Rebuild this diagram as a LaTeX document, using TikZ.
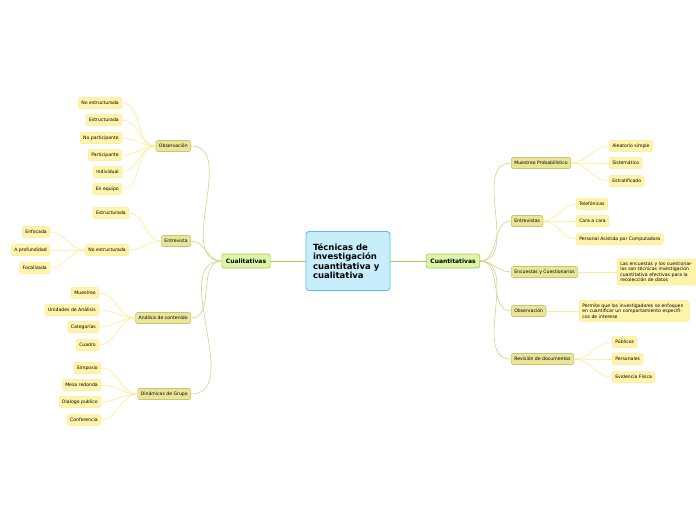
\documentclass[tikz,border=0pt]{standalone}
\usepackage{fontspec}
\setmainfont{DejaVu Sans}
\usetikzlibrary{positioning}
\definecolor{rootfill}{HTML}{C8EDFB}
\definecolor{rootline}{HTML}{5CC2E4}
\definecolor{mainfill}{HTML}{DCF5A6}
\definecolor{mainline}{HTML}{A9CC52}
\definecolor{subfill}{HTML}{E9E69A}
\definecolor{subline}{HTML}{C9C56C}
\definecolor{leaffill}{HTML}{FFF4AA}
\definecolor{leafline}{HTML}{FDEB8E}
\tikzset{
  rootbox/.style={draw=rootline, fill=rootfill, line width=0.9pt, rounded corners=3pt, align=left, font=\fontsize{8.5}{9.5}\selectfont\bfseries, text width=70pt, inner sep=7pt, minimum height=59pt},
  mainbox/.style={draw=mainline, fill=mainfill, line width=0.7pt, rounded corners=2pt, font=\fontsize{6}{7}\selectfont\bfseries, minimum height=14pt, inner sep=4pt},
  subbox/.style={draw=subline, fill=subfill, line width=0.6pt, rounded corners=2pt, font=\fontsize{4.6}{5.5}\selectfont, minimum height=11pt, inner sep=3pt},
  leafbox/.style={draw=leafline, fill=leaffill, line width=0.5pt, rounded corners=2pt, font=\fontsize{4.6}{5.5}\selectfont, minimum height=11pt, inner sep=3pt},
  notebox/.style={leafbox, align=left, text width=#1},
  mainlink/.style={draw=mainline, line width=0.8pt},
  sublink/.style={draw=subline!80, line width=0.6pt},
  leaflink/.style={draw=leafline, line width=0.6pt}
}
\begin{document}
\begin{tikzpicture}[x=1pt,y=-1pt]
\useasboundingbox (0,0) rectangle (696,520);
\clip (0,0) rectangle (696,520);
% center and main branches
\node[rootbox] (root) at (348,261) {Técnicas de investigación cuantitativa y cualitativa};
\node[mainbox] (cual) at (246,261) {Cualitativas};
\node[mainbox] (cuan) at (453,261) {Cuantitativas};
\draw[mainlink] (root.west) -- (cual.east);
\draw[mainlink] (root.east) -- (cuan.west);
% left side
\foreach \n/\t/\y in {obs/Observación/146, ent/Entrevista/241, ana/Análisis de contenido/318, din/Dinámicas de Grupo/394} {
  \node[subbox, anchor=east] (\n) at (191,\y) {\t};
  \draw[sublink] (cual.west) to[out=180,in=0] (\n.east);
}
\foreach \t/\y [count=\k] in {No estructurada/103, Estructurada/120, No participante/138, Participante/155, Individual/172, En equipo/189} {
  \node[leafbox, anchor=east] (obs\k) at (122,\y) {\t};
  \draw[leaflink] (obs.west) to[out=180,in=0] (obs\k.east);
}
\node[leafbox, anchor=east] (ent1) at (129,213) {Estructurada};
\node[leafbox, anchor=east] (ent2) at (129,250) {No estructurada};
\foreach \k in {1,2} {\draw[leaflink] (ent.west) to[out=180,in=0] (ent\k.east);}
\foreach \t/\y [count=\k] in {Enfocada/232, A profundidad/250, Focalizada/268} {
  \node[leafbox, anchor=east] (noe\k) at (50,\y) {\t};
  \draw[leaflink] (ent2.west) to[out=180,in=0] (noe\k.east);
}
\foreach \t/\y [count=\k] in {Muestreo/293, Unidades de Análisis/310, Categorías/327, Cuadro/345} {
  \node[leafbox, anchor=east] (ana\k) at (99,\y) {\t};
  \draw[leaflink] (ana.west) to[out=180,in=0] (ana\k.east);
}
\foreach \t/\y [count=\k] in {Simposio/368, Mesa redonda/385, Dialogo publico/402, Conferencia/420} {
  \node[leafbox, anchor=east] (din\k) at (101,\y) {\t};
  \draw[leaflink] (din.west) to[out=180,in=0] (din\k.east);
}
% right side
\foreach \n/\t/\y in {mue/Muestreo Probabilístico/163, ents/Entrevistas/221, enc/Encuestas y Cuestionarios/272, obr/Observación/311, rev/Revisión de documentos/359} {
  \node[subbox, anchor=west] (\n) at (511,\y) {\t};
  \draw[sublink] (cuan.east) to[out=0,in=180] (\n.west);
}
\foreach \t/\y [count=\k] in {Aleatorio simple/146, Sistemático/163, Estratificado/181} {
  \node[leafbox, anchor=west] (mue\k) at (609,\y) {\t};
  \draw[leaflink] (mue.east) to[out=0,in=180] (mue\k.west);
}
\foreach \t/\y [count=\k] in {Telefónicas/204, Cara a cara/221, Personal Asistida por Computadora/239} {
  \node[leafbox, anchor=west] (ents\k) at (576,\y) {\t};
  \draw[leaflink] (ents.east) to[out=0,in=180] (ents\k.west);
}
\node[notebox=76pt, anchor=west] (enc1) at (617,272) {Las encuestas y los cuestionarios son técnicas investigación cuantitativa efectivas para la recolección de datos};
\draw[leaflink] (enc.east) -- (enc1.west);
\node[notebox=104pt, anchor=west] (obr1) at (579,311) {Permite que los investigadores se enfoquen en cuantificar un comportamiento específicos de interese};
\draw[leaflink] (obr.east) -- (obr1.west);
\foreach \t/\y [count=\k] in {Públicos/342, Personales/359, Evidencia Física/377} {
  \node[leafbox, anchor=west] (rev\k) at (612,\y) {\t};
  \draw[leaflink] (rev.east) to[out=0,in=180] (rev\k.west);
}
\end{tikzpicture}
\end{document}
